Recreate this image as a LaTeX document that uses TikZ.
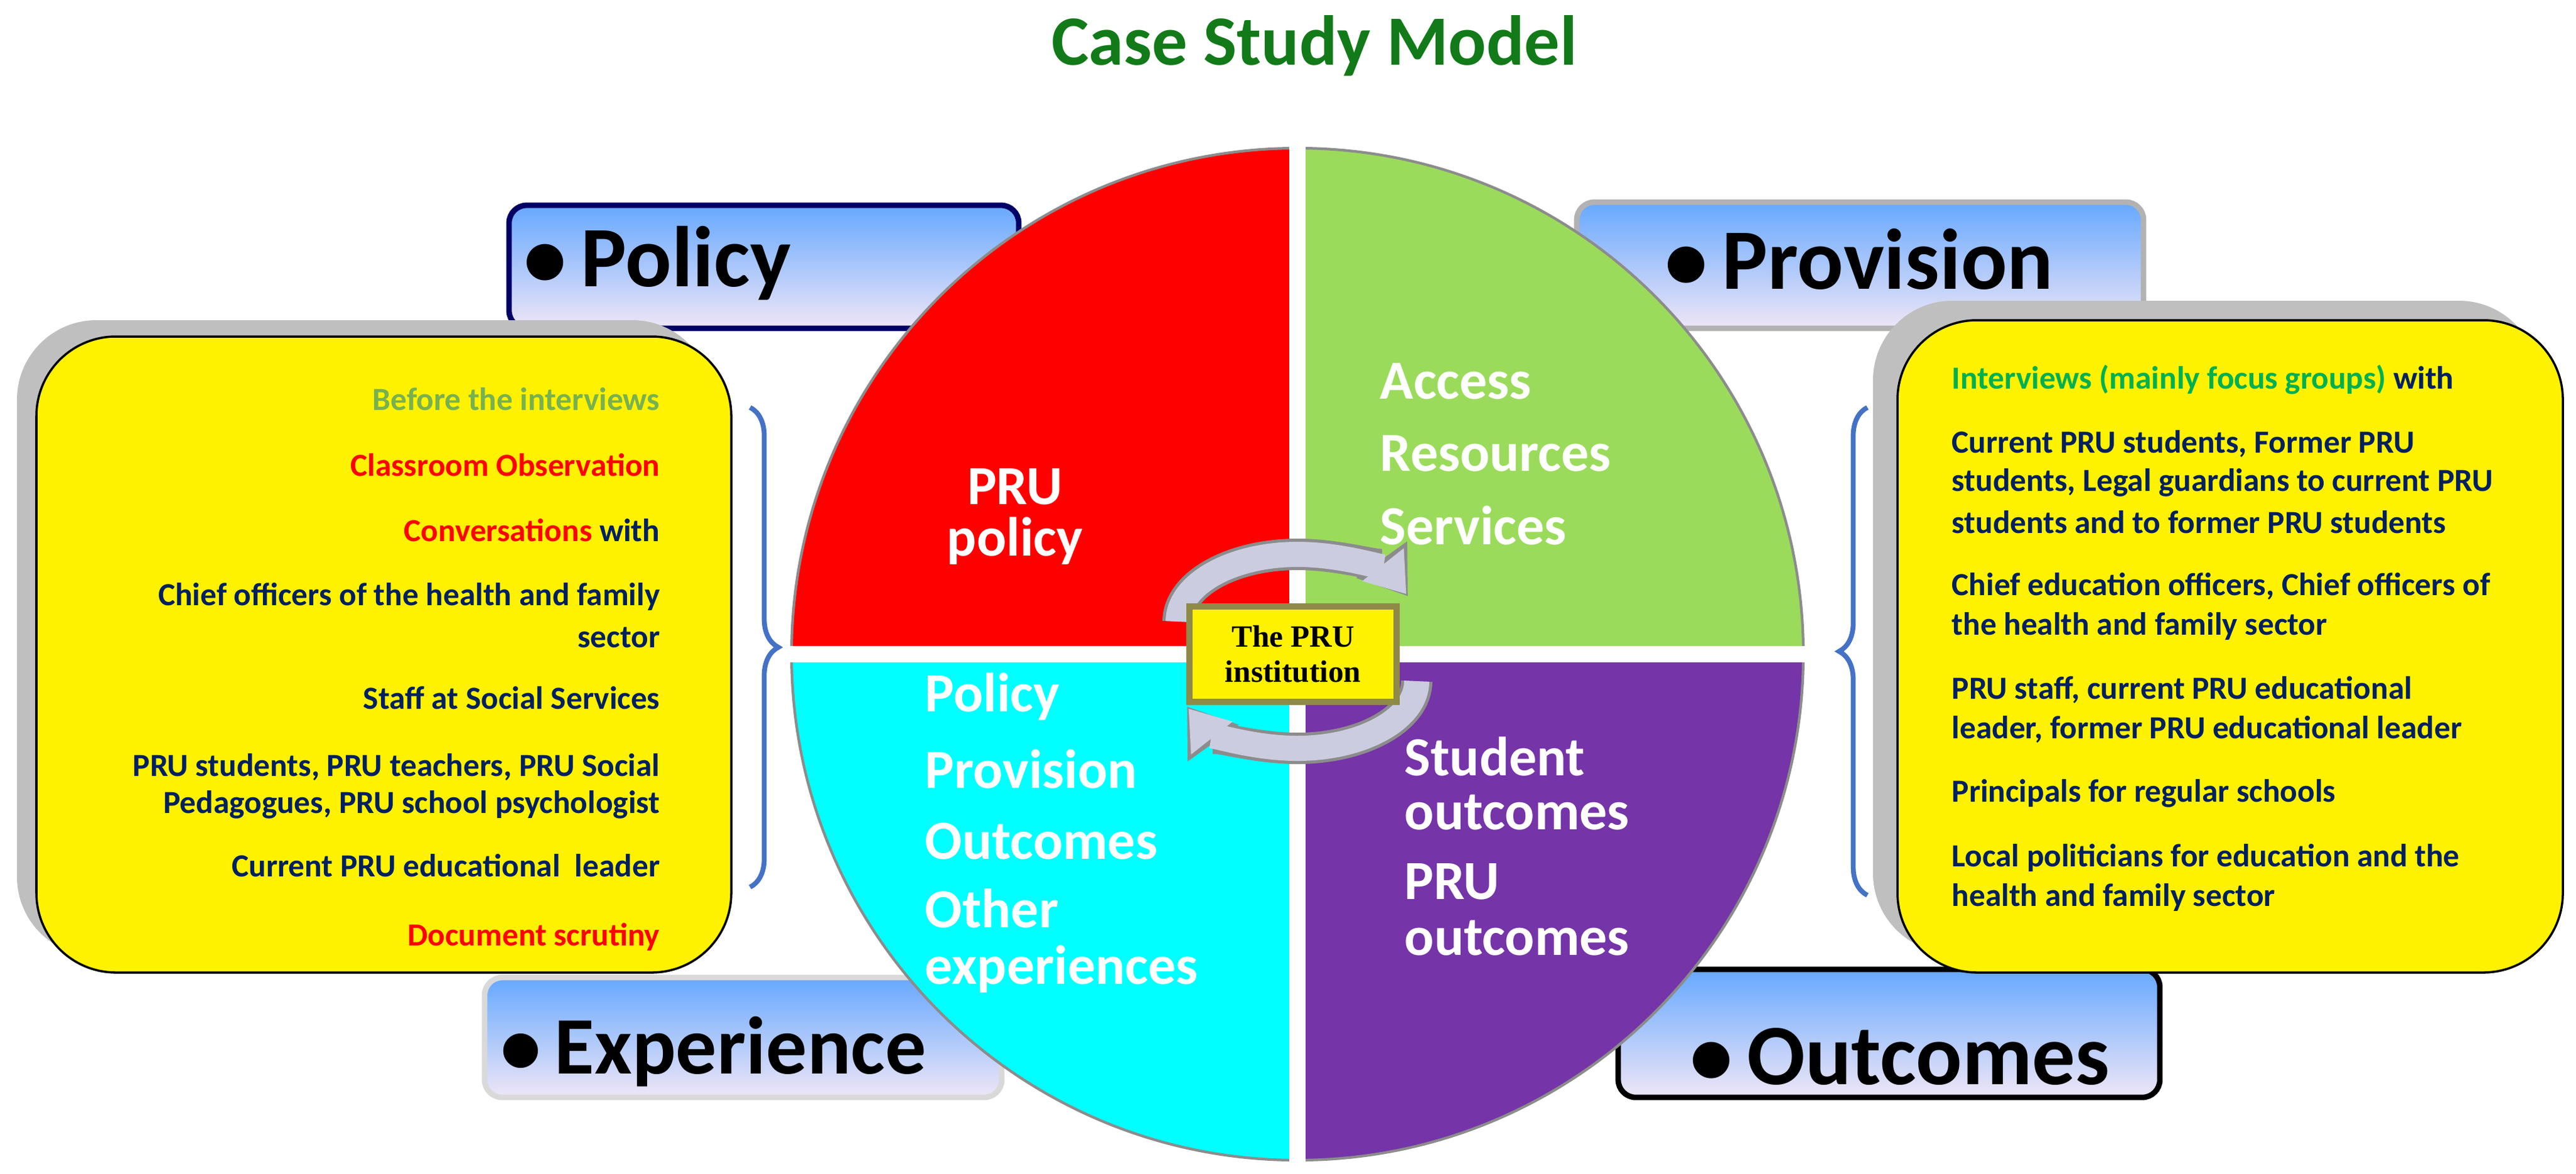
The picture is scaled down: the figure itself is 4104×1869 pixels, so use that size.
\documentclass[tikz,border=0pt]{standalone}
\usepackage{fontspec}
\setmainfont{Carlito}
\newfontfamily\serifb{Liberation Serif}
\usetikzlibrary{arrows.meta,decorations.pathreplacing,shadings}
\definecolor{navy}{HTML}{002060}
\definecolor{qgreen}{HTML}{9BDB5B}
\definecolor{qcyan}{HTML}{00FFFF}
\definecolor{qpurple}{HTML}{7534A8}
\definecolor{tgreen}{HTML}{77B150}
\definecolor{igreen}{HTML}{00B050}
\definecolor{ttl}{HTML}{127A18}
\definecolor{bblue}{HTML}{66A8FF}
\definecolor{blav}{HTML}{EFE6F6}
\definecolor{brace}{HTML}{4472C4}
\definecolor{arr}{HTML}{CCCCE0}
\begin{document}
\begin{tikzpicture}[x=0.01cm,y=-0.01cm,
  banner/.style={top color=bblue,bottom color=blav,line width=2.5pt,rounded corners=8pt},
  btxt/.style={font=\fontsize{39}{46}\selectfont\bfseries,anchor=west},
  qtxt/.style={font=\fontsize{25}{30}\selectfont\bfseries,text=white,anchor=west,inner sep=0},
  ltxt/.style={font=\fontsize{14.6}{17}\selectfont\bfseries,text=navy,anchor=east,inner sep=0},
  rtxt/.style={font=\fontsize{14.6}{17}\selectfont\bfseries,text=navy,anchor=west,inner sep=0},
  ybox/.style={fill=yellow,draw=black,line width=1pt,rounded corners=36pt},
  shbox/.style={fill=black!25,rounded corners=36pt},
  br/.style={draw=brace,line width=2.2pt,decorate,decoration={brace,amplitude=0.45cm}},
  arrb/.style={black!45,line width=0.50cm,-{Triangle[length=0.72cm,width=0.95cm]}},
  arrf/.style={arr,line width=0.40cm,-{Triangle[length=0.6cm,width=0.8cm]}}]
\useasboundingbox (0,0) rectangle (4104,1869);
\node[font=\fontsize{32}{38}\selectfont\bfseries,text=ttl] (title) at (2094,73) {Case Study Model};
% banners
\draw[banner,draw=blue!40!black] (811,327) rectangle (1623,523);
\draw[banner,draw=black!30] (2512,322) rectangle (3415,523);
\draw[banner,draw=black!15] (772,1557) rectangle (1596,1748);
\draw[banner,draw=black] (2578,1544) rectangle (3441,1748);
\node[btxt] (bpol) at (822,419) {\textbullet\,Policy};
\node[btxt] (bpro) at (2640,413) {\textbullet\,Provision};
\node[btxt,font=\fontsize{37}{44}\selectfont\bfseries] (bexp) at (785,1675) {\textbullet\,Experience};
\node[btxt] (bout) at (2680,1683) {\textbullet\,Outcomes};
% circle
\coordinate (c) at (2067,1042);
\fill[qgreen] (c) -- ++(270:806) arc[start angle=270,end angle=360,radius=806] -- cycle;
\fill[qpurple] (c) -- ++(0:806) arc[start angle=0,end angle=90,radius=806] -- cycle;
\fill[qcyan] (c) -- ++(90:806) arc[start angle=90,end angle=180,radius=806] -- cycle;
\fill[red] (c) -- ++(180:806) arc[start angle=180,end angle=270,radius=806] -- cycle;
\draw[black!45,line width=1.2pt] (c) circle[radius=806];
\draw[white,line width=0.26cm] (2067,220) -- (2067,1865);
\draw[white,line width=0.26cm] (1250,1042) -- (2885,1042);
% quadrant texts
\node[qtxt,anchor=center] (q1) at (1617,775) {PRU};
\node[qtxt,anchor=center] (q1b) at (1617,862) {policy};
\node[qtxt] (q2a) at (2198,607) {Access};
\node[qtxt] (q2b) at (2198,722) {Resources};
\node[qtxt] (q2c) at (2198,837) {Services};
\node[qtxt] (q3a) at (1473,1110) {Policy};
\node[qtxt] (q3b) at (1473,1225) {Provision};
\node[qtxt] (q3c) at (1473,1340) {Outcomes};
\node[qtxt] (q3d) at (1473,1447) {Other};
\node[qtxt] (q3e) at (1473,1544) {experiences};
\node[qtxt] (q4a) at (2237,1205) {Student};
\node[qtxt] (q4b) at (2237,1294) {outcomes};
\node[qtxt] (q4c) at (2237,1404) {PRU};
\node[qtxt] (q4d) at (2237,1494) {outcomes};
% circular arrows
\coordinate (cu) at (2067,990);
\coordinate (cl) at (2067,1085);
\draw[arrb] (cu) ++(180:190 and 107) arc[start angle=180,end angle=338,x radius=190,y radius=107];
\draw[arrf] (cu) ++(180:190 and 107) arc[start angle=180,end angle=336,x radius=190,y radius=107];
\draw[arrb] (cl) ++(0:190 and 107) arc[start angle=0,end angle=158,x radius=190,y radius=107];
\draw[arrf] (cl) ++(0:190 and 107) arc[start angle=0,end angle=156,x radius=190,y radius=107];
\node[fill=yellow,draw=yellow!50!black,line width=3pt,minimum width=3.3cm,minimum height=1.52cm,align=center,font=\serifb\fontsize{14}{16}\selectfont\bfseries] (core) at (2060,1042) {The PRU\\institution};
% left box
\fill[shbox] (27,510) rectangle (1134,1523);
\draw[ybox] (58,536) rectangle (1165,1549);
\node[ltxt,text=tgreen] (l1) at (1052,636) {Before the interviews};
\node[ltxt,text=red] (l2) at (1052,741) {Classroom Observation};
\node[ltxt] (l3) at (1052,845) {\textcolor{red}{Conversations} with};
\node[ltxt] (l4) at (1052,950) {Chief officers of the health and family};
\node[ltxt] (l5) at (1052,1015) {sector};
\node[ltxt] (l6) at (1052,1112) {Staff at Social Services};
\node[ltxt] (l7) at (1052,1222) {PRU students, PRU teachers, PRU Social};
\node[ltxt] (l8) at (1052,1282) {Pedagogues, PRU school psychologist};
\node[ltxt] (l9) at (1052,1379) {Current PRU educational\ \ leader};
\node[ltxt,text=red] (l10) at (1052,1492) {Document scrutiny};
% right box
\fill[shbox] (2984,479) rectangle (4044,1518);
\draw[ybox] (3023,510) rectangle (4083,1549);
\node[rtxt] (r1) at (3109,605) {\textcolor{igreen}{Interviews (mainly focus groups)} with};
\node[rtxt] (r2) at (3109,707) {Current PRU students, Former PRU};
\node[rtxt] (r3) at (3109,769) {students, Legal guardians to current PRU};
\node[rtxt] (r4) at (3109,832) {students and to former PRU students};
\node[rtxt] (r5) at (3109,934) {Chief education officers, Chief officers of};
\node[rtxt] (r6) at (3109,997) {the health and family sector};
\node[rtxt] (r7) at (3109,1099) {PRU staff, current PRU educational};
\node[rtxt] (r8) at (3109,1162) {leader, former PRU educational leader};
\node[rtxt] (r9) at (3109,1264) {Principals for regular schools};
\node[rtxt] (r10) at (3109,1366) {Local politicians for education and the};
\node[rtxt] (r11) at (3109,1429) {health and family sector};
% braces
\coordinate (lbt) at (1195,649);
\coordinate (lbb) at (1195,1413);
\coordinate (rbt) at (2975,649);
\coordinate (rbb) at (2975,1426);
\draw[br] (lbt) -- (lbb);
\draw[br] (rbb) -- (rbt);
\end{tikzpicture}
\end{document}
